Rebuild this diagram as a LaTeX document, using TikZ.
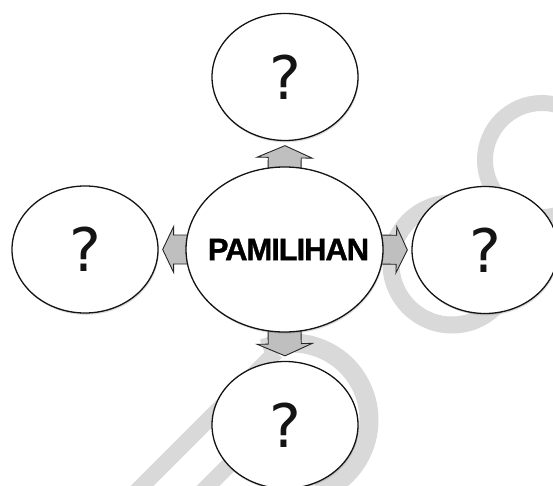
\documentclass[tikz,border=0pt]{standalone}
\usepackage{fontspec}
\newfontfamily\qfont{DejaVu Sans}
\newfontfamily\pamfont[LetterSpace=-3.5,FakeBold=1.2]{Liberation Sans}
\usetikzlibrary{calc,shapes.geometric,shadows}
\pgfdeclarelayer{bglayer}
\pgfdeclarelayer{wmlayer}
\pgfdeclarelayer{arrowlayer}
\pgfsetlayers{bglayer,wmlayer,arrowlayer,main}
\tikzset{
  bubble/.style={ellipse, draw=black!92, line width=1.3pt, fill=white, inner sep=0pt,
    minimum width=146pt, minimum height=127pt,
    drop shadow={shadow xshift=0.8pt, shadow yshift=-1.8pt, opacity=0.3, fill=black!45}},
  qmark/.style={font=\qfont\fontsize{60}{60}\selectfont, text=black!92},
  blockarrow/.style={draw=black!85, line width=0.9pt, fill=black!25, line join=miter},
  wm/.style={draw=black!15},
}
% #1 name, #2 base, #3 tip, #4 head length, #5 shaft half width, #6 head half width
\newcommand{\myblockarrow}[6]{%
  \coordinate (#1hb) at ($(#3)!#4!(#2)$);
  \path[blockarrow] ($(#2)!#5!90:(#3)$) -- ($(#1hb)!#5!90:(#3)$) -- ($(#1hb)!#6!90:(#3)$)
    -- (#3) -- ($(#1hb)!#6!-90:(#3)$) -- ($(#1hb)!#5!-90:(#3)$) -- ($(#2)!#5!-90:(#3)$) -- cycle;
}
\begin{document}
\begin{tikzpicture}[x=1pt,y=-1pt]
\begin{pgfonlayer}{bglayer}
  \fill[white] (0,0) rectangle (553,486);
\end{pgfonlayer}
\useasboundingbox (0,0) rectangle (553,486);

% nodes
\node[bubble, minimum width=197pt, minimum height=165pt] (c) at (284.5,249.5)
  {\makebox[0pt]{\pamfont\bfseries\fontsize{31}{31}\selectfont\hspace*{8pt}PAMILIHAN}};
\node[bubble, qmark] (t) at (285,77) {?};
\node[bubble, qmark] (l) at (85,249.5) {?};
\node[bubble, qmark] (r) at (485,250) {?};
\node[bubble, qmark] (b) at (285,425) {?};

% watermark
\begin{pgfonlayer}{wmlayer}
  \draw[wm, line width=16pt] (542,160) circle[radius=57];
  \draw[wm, line width=17pt] (452,264) circle[radius=61];
  \draw[wm, line width=19pt] (292,420) ++(-112:77) arc[start angle=-112, end angle=70, radius=77];
  \draw[wm, line width=16pt] (276,352) -- (120,508);
  \draw[wm, line width=16pt] (300,394) -- (186,508);
\end{pgfonlayer}

% block arrows
\begin{pgfonlayer}{arrowlayer}
  \coordinate (tb) at ($(c.north)!4pt!(c.center)$);
  \coordinate (tt) at ($(t.south)!4.5pt!(c.center)$);
  \myblockarrow{ta}{tb}{tt}{12pt}{16.5pt}{27.5pt}
  \coordinate (bb) at ($(c.south)!4pt!(c.center)$);
  \coordinate (bt) at ($(b.north)!5pt!(c.center)$);
  \myblockarrow{ba}{bb}{bt}{12pt}{16.5pt}{27.5pt}
  \coordinate (lb) at ($(c.west)!4pt!(c.center)$);
  \coordinate (lt) at ($(l.east)!4pt!(c.center)$);
  \myblockarrow{la}{lb}{lt}{11pt}{14.5pt}{23pt}
  \coordinate (rb) at ($(c.east)!4pt!(c.center)$);
  \coordinate (rt) at ($(r.west)!4pt!(c.center)$);
  \myblockarrow{ra}{rb}{rt}{11pt}{14.5pt}{23pt}
\end{pgfonlayer}
\end{tikzpicture}
\end{document}
